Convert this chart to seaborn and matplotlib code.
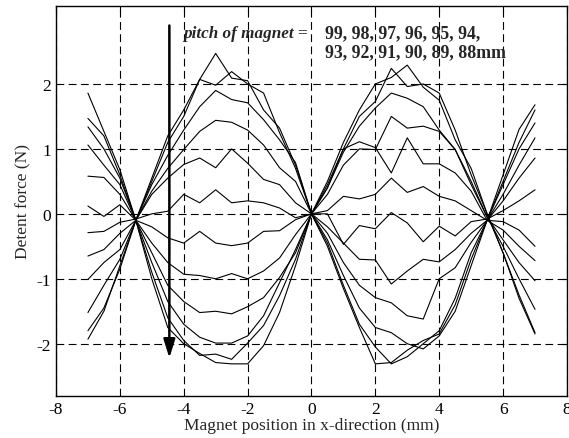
import numpy as np
import pandas as pd
import matplotlib
matplotlib.use('Agg')  # no UI backend
import matplotlib.pyplot as plt
import seaborn as sns

# magnet position (mm)
position = [-7.0, -6.5, -6.0, -5.5, -5.0, -4.5, -4.0, -3.5, -3.0, -2.5,
            -2.0, -1.5, -1.0, -0.5, 0.0, 0.5, 1.0, 1.5, 2.0, 2.5,
            3.0, 3.5, 4.0, 4.5, 5.0, 5.5, 6.0, 6.5, 7.0]

pitch = [99, 98, 97, 96, 95, 94, 93, 92, 91, 90, 89, 88]

# detent force (N) for each magnet pitch
force_99 = [-1.93, -1.50, -0.80, -0.10, 0.55, 1.20, 1.60, 2.07, 2.47, 2.09,
            2.05, 1.60, 1.32, 0.75, 0.00, -0.50, -1.15, -1.75, -2.31, -2.29,
            -2.10, -1.95, -1.85, -1.40, -0.70, -0.10, 0.60, 1.30, 1.68]
force_98 = [-1.80, -1.45, -0.85, -0.10, 0.50, 1.10, 1.50, 2.07, 1.98, 2.19,
            2.00, 1.86, 1.25, 0.70, 0.00, -0.45, -1.10, -1.70, -2.05, -2.31,
            -2.20, -2.00, -1.80, -1.30, -0.60, -0.10, 0.50, 1.10, 1.60]
force_97 = [-1.52, -1.10, -0.70, -0.10, 0.45, 0.90, 1.29, 1.65, 1.90, 1.76,
            1.71, 1.45, 1.14, 0.79, 0.00, -0.40, -0.95, -1.45, -1.75, -1.83,
            -2.00, -2.08, -1.88, -1.50, -0.80, -0.10, 0.45, 1.00, 1.40]
force_96 = [-1.01, -0.75, -0.55, -0.10, 0.35, 0.70, 0.99, 1.27, 1.44, 1.41,
            1.29, 1.06, 0.71, 0.50, 0.00, -0.30, -0.75, -1.10, -1.29, -1.37,
            -1.57, -1.62, -1.00, -0.83, -0.44, -0.10, 0.30, 0.75, 1.17]
force_95 = [-0.65, -0.55, -0.30, -0.10, 0.30, 0.55, 0.76, 0.86, 0.71, 1.00,
            0.78, 0.53, 0.45, 0.17, 0.00, -0.20, -0.45, -0.70, -0.71, -1.08,
            -0.88, -0.70, -0.74, -0.55, -0.30, -0.10, 0.20, 0.55, 0.86]
force_94 = [-0.29, -0.27, -0.13, -0.08, 0.00, 0.04, 0.30, 0.17, 0.37, 0.17,
            0.20, 0.17, 0.09, -0.06, 0.00, 0.00, -0.47, -0.18, -0.23, 0.02,
            -0.14, -0.43, -0.19, -0.34, -0.12, -0.08, 0.05, 0.20, 0.37]
force_93 = [0.12, -0.04, 0.14, -0.10, -0.20, -0.37, -0.45, -0.27, -0.45, -0.49,
            -0.45, -0.27, -0.26, -0.09, 0.00, 0.05, 0.27, 0.23, 0.30, 0.55,
            0.33, 0.42, 0.27, 0.20, 0.05, -0.10, -0.12, -0.25, -0.50]
force_92 = [0.58, 0.56, 0.30, -0.10, -0.45, -0.75, -0.93, -0.95, -1.00, -0.92,
            -1.00, -0.88, -0.68, -0.32, 0.00, 0.40, 1.00, 1.11, 1.02, 0.63,
            1.17, 0.77, 0.77, 0.63, 0.35, -0.10, -0.25, -0.50, -0.72]
force_91 = [1.06, 0.75, 0.45, -0.10, -0.60, -1.10, -1.35, -1.52, -1.50, -1.54,
            -1.43, -1.29, -0.98, -0.60, 0.00, 0.30, 0.75, 1.00, 0.99, 1.50,
            1.32, 1.35, 1.27, 0.99, 0.45, -0.05, -0.40, -0.75, -1.03]
force_90 = [1.34, 1.00, 0.55, -0.10, -0.75, -1.35, -1.70, -1.90, -1.99, -1.99,
            -1.88, -1.57, -1.06, -0.55, 0.00, 0.40, 0.95, 1.35, 1.63, 1.86,
            1.78, 1.65, 1.29, 0.99, 0.50, -0.05, -0.50, -1.00, -1.47]
force_89 = [1.47, 1.20, 0.60, -0.10, -0.90, -1.60, -1.95, -2.18, -2.16, -2.24,
            -1.99, -1.72, -1.26, -0.70, 0.00, 0.45, 1.00, 1.50, 1.73, 2.24,
            1.96, 2.00, 1.86, 1.29, 0.60, 0.00, -0.60, -1.25, -1.83]
force_88 = [1.86, 1.27, 0.68, -0.10, -1.00, -1.75, -2.00, -2.15, -2.29, -2.31,
            -2.31, -2.03, -1.52, -0.80, 0.00, 0.50, 1.10, 1.60, 2.00, 2.10,
            2.29, 1.95, 1.75, 1.14, 0.70, 0.00, -0.60, -1.30, -1.85]

forces = [force_99, force_98, force_97, force_96, force_95, force_94,
          force_93, force_92, force_91, force_90, force_89, force_88]


def main():
    rows = []
    for p, f in zip(pitch, forces):
        for x, y in zip(position, f):
            rows.append((p, x, y))
    df = pd.DataFrame(rows, columns=['pitch', 'position', 'force'])

    sns.set_style('white')
    plt.rcParams['font.family'] = ['Liberation Serif', 'DejaVu Serif']
    plt.rcParams['axes.unicode_minus'] = False

    fig = plt.figure(figsize=(5.69, 4.39), dpi=100)
    ax = fig.add_axes([0.0984, 0.0964, 0.898, 0.8876])

    sns.lineplot(data=df, x='position', y='force', units='pitch',
                 estimator=None, sort=False, color='black', lw=0.8, ax=ax)

    ax.set_xlim(-8, 8)
    ax.set_ylim(-2.8, 3.2)
    ax.set_xticks([-8, -6, -4, -2, 0, 2, 4, 6, 8])
    ax.set_yticks([-2, -1, 0, 1, 2])
    ax.grid(True, color='black', linestyle=(0, (7, 4)), linewidth=0.8)
    ax.tick_params(direction='in', length=4, width=0.8, top=True, right=True,
                   labelsize=12.5, colors='black')
    for s in ax.spines.values():
        s.set_color('black')
        s.set_linewidth(1.0)

    ax.set_xlabel('Magnet position in x-direction (mm)', fontsize=12.5, labelpad=0)
    ax.set_ylabel('Detent force (N)', fontsize=12.5, labelpad=4)

    ax.annotate('', xy=(-4.45, -2.22), xytext=(-4.45, 2.9),
                arrowprops=dict(arrowstyle='-|>,head_width=0.25,head_length=0.8',
                                lw=1.8, color='black', mutation_scale=14,
                                shrinkA=0, shrinkB=0))
    ax.text(-4.03, 2.72, 'pitch of magnet =', fontsize=12.3, fontweight='bold',
            style='italic', va='baseline')
    ax.text(0.41, 2.72, '99, 98, 97, 96, 95, 94,', fontsize=12.8,
            fontweight='bold', va='baseline')
    ax.text(0.41, 2.42, '93, 92, 91, 90, 89, 88mm', fontsize=12.8,
            fontweight='bold', va='baseline')

    fig.savefig('out.png', dpi=100)


if __name__ == '__main__':
    main()
